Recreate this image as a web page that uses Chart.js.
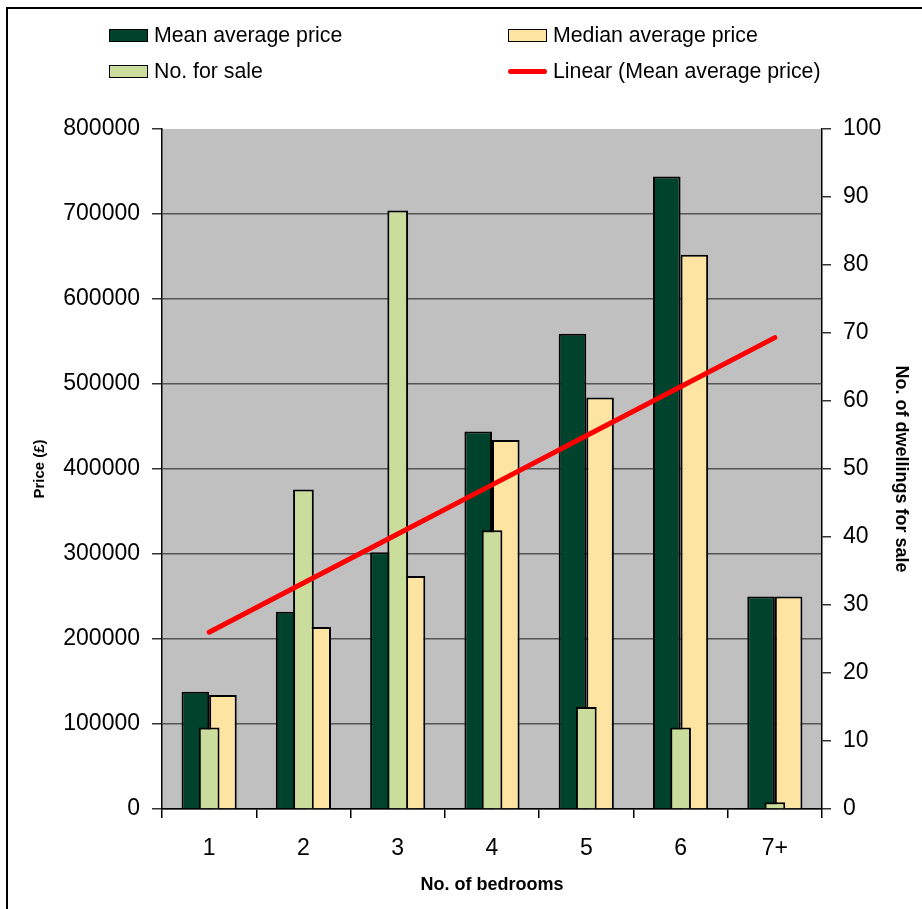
<!DOCTYPE html>
<html>
<head>
<meta charset="utf-8">
<title>Price by number of bedrooms</title>
<script src="https://cdn.jsdelivr.net/npm/chart.js@4.4.1/dist/chart.umd.min.js"></script>
<style>
    html, body { margin: 0; padding: 0; background: #fff; }
    #wrap { position: relative; width: 922px; height: 909px; }
    #legend { position: absolute; left: 0; top: 0; font-family: "Liberation Sans", Arial, sans-serif; font-size: 21.3px; color: #000; }
    .item { position: absolute; height: 24px; display: flex; align-items: center; white-space: nowrap; }
    .swatch { width: 37px; height: 11px; border: 1.5px solid #000; margin-right: 6px; }
    .swatch.line { border: none; height: 5px; border-radius: 3px; width: 39px; margin-right: 6px; }
</style>
</head>
<body>
<div id="wrap">
    <canvas id="chart" width="922" height="909"></canvas>
    <div id="legend"></div>
</div>
<script>
// categories and values
const bedrooms = ['1', '2', '3', '4', '5', '6', '7+'];
const meanPrice = [138000, 232000, 302000, 444000, 559000, 744000, 250000];
const medianPrice = [134000, 214000, 274000, 434000, 484000, 652000, 250000];
const forSale = [12, 47, 88, 41, 15, 12, 1];

const FONT = '"Liberation Sans", Arial, sans-serif';

// least squares trend of the mean price (what Excel's "Linear" trendline is)
function linearTrend(values) {
    const n = values.length;
    const xs = values.map((_, i) => i + 1);
    const sumX = xs.reduce((a, b) => a + b, 0);
    const sumY = values.reduce((a, b) => a + b, 0);
    const sumXY = xs.reduce((a, x, i) => a + x * values[i], 0);
    const sumXX = xs.reduce((a, x) => a + x * x, 0);
    const slope = (n * sumXY - sumX * sumY) / (n * sumXX - sumX * sumX);
    const intercept = (sumY - slope * sumX) / n;
    return xs.map(x => slope * x + intercept);
}

const plotBackground = {
    id: 'plotBackground',
    beforeDraw(chart) {
        const { ctx, chartArea: a } = chart;
        ctx.save();
        ctx.fillStyle = '#c0c0c0';
        ctx.fillRect(a.left, a.top, a.right - a.left, a.bottom - a.top);
        ctx.restore();
    },
    afterDraw(chart) {
        const ctx = chart.ctx;
        ctx.save();
        ctx.strokeStyle = '#000';
        ctx.lineWidth = 2;
        ctx.strokeRect(7, 8, 940, 930);
        ctx.restore();
    }
};

const chart = new Chart(document.getElementById('chart'), {
    type: 'bar',
    data: {
        labels: bedrooms,
        datasets: [
            {
                label: 'Mean average price',
                data: meanPrice,
                backgroundColor: '#00432d',
                borderColor: '#000',
                borderWidth: 2,
                categoryPercentage: 0.585,
                barPercentage: 1,
                order: 2
            },
            {
                label: 'Median average price',
                data: medianPrice,
                backgroundColor: '#fde4a2',
                borderColor: '#000',
                borderWidth: 2,
                categoryPercentage: 0.585,
                barPercentage: 1,
                order: 2
            },
            {
                label: 'No. for sale',
                data: forSale,
                yAxisID: 'y2',
                grouped: false,
                backgroundColor: '#cadd9c',
                borderColor: '#000',
                borderWidth: 2,
                categoryPercentage: 0.22,
                barPercentage: 1,
                order: 1
            },
            {
                type: 'line',
                label: 'Linear (Mean average price)',
                data: linearTrend(meanPrice),
                borderColor: '#ff0000',
                borderWidth: 5,
                borderCapStyle: 'round',
                pointRadius: 0,
                fill: false,
                order: 0
            }
        ]
    },
    options: {
        responsive: false,
        animation: false,
        layout: { padding: { top: 129, left: 0, right: 0, bottom: 0 } },
        plugins: {
            legend: { display: false },
            tooltip: { enabled: false }
        },
        scales: {
            x: {
                grid: { drawOnChartArea: false, drawTicks: true, tickLength: 9, color: '#000', lineWidth: 1.5 },
                border: { color: '#000', width: 1.5 },
                ticks: { color: '#000', font: { family: FONT, size: 23 }, padding: 17 },
                title: { display: true, text: 'No. of bedrooms', color: '#000', font: { family: FONT, size: 18, weight: 'bold' }, padding: { top: 0, bottom: 13 } },
                afterFit(scale) { scale.height = 100; }
            },
            y: {
                position: 'left',
                min: 0,
                max: 800000,
                ticks: { stepSize: 100000, color: '#000', font: { family: FONT, size: 23 }, padding: 12, callback: v => String(v) },
                grid: {
                    color: ctx => ctx.tick && ctx.tick.value === 800000 ? 'rgba(0,0,0,0)' : '#555',
                    tickColor: '#333',
                    lineWidth: 1.5,
                    tickLength: 10
                },
                border: { color: '#000', width: 1.5 },
                title: { display: true, text: 'Price (£)', color: '#000', font: { family: FONT, size: 15, weight: 'bold' }, padding: { top: 31, bottom: 0 } },
                afterFit(scale) { scale.width = 162; }
            },
            y2: {
                position: 'right',
                min: 0,
                max: 100,
                ticks: { stepSize: 10, color: '#000', font: { family: FONT, size: 23 }, padding: 12 },
                grid: { drawOnChartArea: false, tickColor: '#333', lineWidth: 1.5, tickLength: 9 },
                border: { color: '#000', width: 1.5 },
                title: { display: true, text: 'No. of dwellings for sale', color: '#000', font: { family: FONT, size: 18, weight: 'bold' }, padding: { top: 10, bottom: 0 } },
                afterFit(scale) { scale.width = 100; }
            }
        }
    },
    plugins: [plotBackground]
});

// legend in two columns like the original spreadsheet chart
function buildLegend() {
    const box = document.getElementById('legend');
    const columns = [109, 508];
    const rows = [35, 71];
    chart.data.datasets.forEach((ds, i) => {
        const item = document.createElement('div');
        item.className = 'item';
        item.style.left = columns[i % 2] + 'px';
        item.style.top = (rows[Math.floor(i / 2)] - 12) + 'px';
        const sw = document.createElement('span');
        sw.className = ds.type === 'line' ? 'swatch line' : 'swatch';
        sw.style.background = ds.type === 'line' ? ds.borderColor : ds.backgroundColor;
        const txt = document.createElement('span');
        txt.textContent = ds.label;
        item.appendChild(sw);
        item.appendChild(txt);
        box.appendChild(item);
    });
}
buildLegend();
</script>
</body>
</html>
